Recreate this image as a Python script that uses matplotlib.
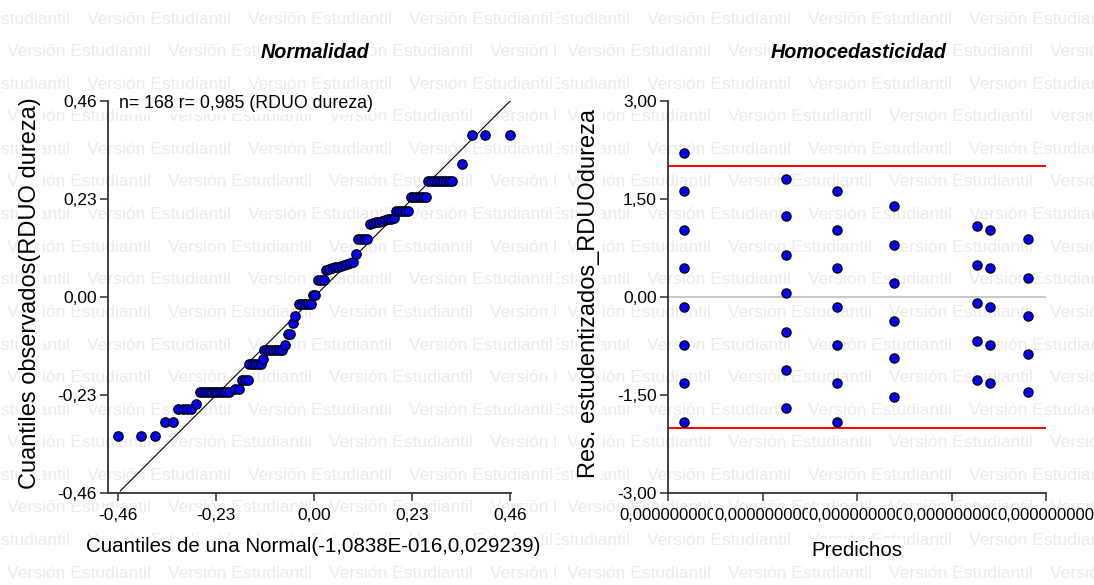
import matplotlib
matplotlib.use("Agg")
import matplotlib.pyplot as plt
from matplotlib.transforms import Bbox, TransformedBbox

# QQ plot of RDUO dureza: theoretical normal quantiles (x) vs observed residuals (y)
qq_x = [-0.460, -0.406, -0.373,
        -0.351, -0.331,
        -0.319, -0.309, -0.299, -0.289,
        -0.277,
        -0.269, -0.262, -0.255, -0.248, -0.241, -0.234, -0.227, -0.220, -0.213, -0.206, -0.199,
        -0.186, -0.176,
        -0.170, -0.163, -0.156,
        -0.152, -0.145, -0.138, -0.131, -0.124,
        -0.121,
        -0.117, -0.110, -0.103, -0.096, -0.089, -0.082, -0.075,
        -0.068,
        -0.061, -0.057,
        -0.050, -0.045,
        -0.035, -0.028, -0.021, -0.014, -0.007,
        -0.002, 0.003,
        0.008, 0.016, 0.024,
        0.028, 0.035, 0.042, 0.049, 0.056, 0.063, 0.070, 0.077, 0.084, 0.090,
        0.097,
        0.103, 0.110, 0.117, 0.125,
        0.131, 0.138, 0.145, 0.152, 0.159, 0.166, 0.173, 0.180, 0.187,
        0.193, 0.200, 0.207, 0.214, 0.221,
        0.227, 0.234, 0.241, 0.248, 0.255, 0.262,
        0.268, 0.275, 0.282, 0.289, 0.296, 0.303, 0.310, 0.317, 0.324,
        0.347,
        0.371, 0.401, 0.459]
qq_y = [-0.327, -0.327, -0.327,
        -0.293, -0.293,
        -0.262, -0.262, -0.262, -0.262,
        -0.250,
        -0.224, -0.224, -0.224, -0.224, -0.224, -0.224, -0.224, -0.224, -0.224, -0.224, -0.224,
        -0.216, -0.216,
        -0.194, -0.194, -0.194,
        -0.157, -0.157, -0.157, -0.157, -0.157,
        -0.145,
        -0.125, -0.125, -0.125, -0.125, -0.125, -0.125, -0.125,
        -0.113,
        -0.087, -0.087,
        -0.060, -0.044,
        -0.016, -0.016, -0.016, -0.016, -0.016,
        0.004, 0.004,
        0.041, 0.041, 0.041,
        0.064, 0.066, 0.068, 0.070, 0.071, 0.073, 0.075, 0.077, 0.079, 0.081,
        0.101,
        0.137, 0.137, 0.137, 0.137,
        0.172, 0.174, 0.176, 0.177, 0.179, 0.181, 0.182, 0.184, 0.186,
        0.202, 0.202, 0.202, 0.202, 0.202,
        0.234, 0.234, 0.234, 0.234, 0.234, 0.234,
        0.273, 0.273, 0.273, 0.273, 0.273, 0.273, 0.273, 0.273, 0.273,
        0.311,
        0.380, 0.380, 0.380]
qq_line = [-0.455, 0.46]
qq_ticks = [-0.46, -0.23, 0.0, 0.23, 0.46]
qq_tick_labels = ["-0,46", "-0,23", "0,00", "0,23", "0,46"]

# studentized residuals vs predicted values
pred_x = [0.17] * 8 + [1.245] * 7 + [1.79] * 7 + [2.39] * 6 + [3.27] * 5 + [3.41] * 5 + [3.81] * 5
res_y = [2.21, 1.62, 1.03, 0.44, -0.153, -0.74, -1.32, -1.91,
         1.80, 1.24, 0.64, 0.057, -0.54, -1.12, -1.70,
         1.62, 1.03, 0.44, -0.153, -0.74, -1.32, -1.91,
         1.39, 0.79, 0.21, -0.36, -0.94, -1.53,
         1.08, 0.49, -0.092, -0.68, -1.27,
         1.03, 0.44, -0.153, -0.74, -1.32,
         0.89, 0.29, -0.29, -0.88, -1.46]
res_limits = [-2.0, 2.0]
pred_ticks = [0, 1, 2, 3, 4]
pred_tick_labels = ["0,000000000", "0,000000000", "0,000000000", "0,000000000", "0,000000000"]
res_ticks = [3.0, 1.5, 0.0, -1.5, -3.0]
res_tick_labels = ["3,00", "1,50", "0,00", "-1,50", "-3,00"]

plt.rcParams["font.family"] = ["Liberation Sans", "DejaVu Sans"]

W, H = 1094, 585
fig = plt.figure(figsize=(W / 100, H / 100), dpi=100)
fig.patch.set_facecolor("white")


def fx(px):
    return px / W


def fy(py):
    return 1 - py / H


white = dict(facecolor="white", edgecolor="none", pad=1)

# watermark, tiled separately for each half
left_clip = TransformedBbox(Bbox([[0, 0], [556 / W, 1]]), fig.transFigure)
right_clip = TransformedBbox(Bbox([[556 / W, 0], [1, 1]]), fig.transFigure)
for k in range(18):
    py = 19 + 32.6 * k
    for x0, clip in ((7, left_clip), (567, right_clip)):
        start = x0 if k % 2 else x0 - 81
        for i in range(5):
            t = fig.text(fx(start + 161 * i), fy(py), "Versión Estudiantil", color="#ebebeb",
                         fontsize=12.6, ha="left", va="center", zorder=-5)
            t.set_clip_box(clip)

ax1 = fig.add_axes([fx(108), fy(493), (511 - 108) / W, (493 - 101) / H])
ax2 = fig.add_axes([fx(668), fy(493), (1046 - 668) / W, (493 - 101) / H])

for ax in (ax1, ax2):
    ax.set_facecolor("none")
    ax.spines["top"].set_visible(False)
    ax.spines["right"].set_visible(False)
    for s in ("left", "bottom"):
        ax.spines[s].set_color("#303030")
        ax.spines[s].set_linewidth(1.3)
    ax.tick_params(direction="out", length=6, width=1.1, color="#303030", labelsize=12.5,
                   labelcolor="black", pad=2)
    ax.tick_params(axis="x", pad=5)

# Normalidad
ax1.plot(qq_line, qq_line, color="black", lw=0.8, zorder=2)
ax1.scatter(qq_x, qq_y, s=46, c="#0000ff", edgecolors="black", linewidths=0.9, zorder=3, clip_on=False)
ax1.set_xlim(-0.484, 0.462)
ax1.set_ylim(-0.46, 0.46)
ax1.set_xticks(qq_ticks, qq_tick_labels)
ax1.set_yticks(qq_ticks, qq_tick_labels)

# Homocedasticidad
ax2.axhline(0, color="#c8c8c8", lw=1.5, zorder=1)
for lim in res_limits:
    ax2.axhline(lim, color="#ff0000", lw=1.4, zorder=1)
ax2.scatter(pred_x, res_y, s=44, c="#0000ff", edgecolors="black", linewidths=0.9, zorder=3, clip_on=False)
ax2.set_xlim(0, 4)
ax2.set_ylim(-3, 3)
ax2.set_xticks(pred_ticks, pred_tick_labels)
ax2.set_yticks(res_ticks, res_tick_labels)
ax2.tick_params(axis="x", labelsize=12.0)

for ax in (ax1, ax2):
    for lbl in ax.get_xticklabels() + ax.get_yticklabels():
        lbl.set_bbox(dict(facecolor="white", edgecolor="none", pad=0.5))

# titles and labels
fig.text(fx(315), fy(52), "Normalidad", fontsize=14.2, fontweight="bold", fontstyle="italic",
         ha="center", va="center", bbox=white)
fig.text(fx(859), fy(52), "Homocedasticidad", fontsize=14.2, fontweight="bold", fontstyle="italic",
         ha="center", va="center", bbox=white)
fig.text(fx(119), fy(104), "n= 168 r= 0,985 (RDUO dureza)", fontsize=12.8, ha="left", va="center", bbox=white)
fig.text(fx(313), fy(547), "Cuantiles de una Normal(-1,0838E-016,0,029239)", fontsize=14.8,
         ha="center", va="center", bbox=white)
fig.text(fx(857), fy(550), "Predichos", fontsize=14.8, ha="center", va="center", bbox=white)
fig.text(fx(30), fy(293), "Cuantiles observados(RDUO dureza)", fontsize=17,
         rotation=90, ha="center", va="center", bbox=white)
fig.text(fx(589), fy(293), "Res. estudentizados_RDUOdureza", fontsize=17,
         rotation=90, ha="center", va="center", bbox=white)

fig.savefig("out.png", dpi=100)
